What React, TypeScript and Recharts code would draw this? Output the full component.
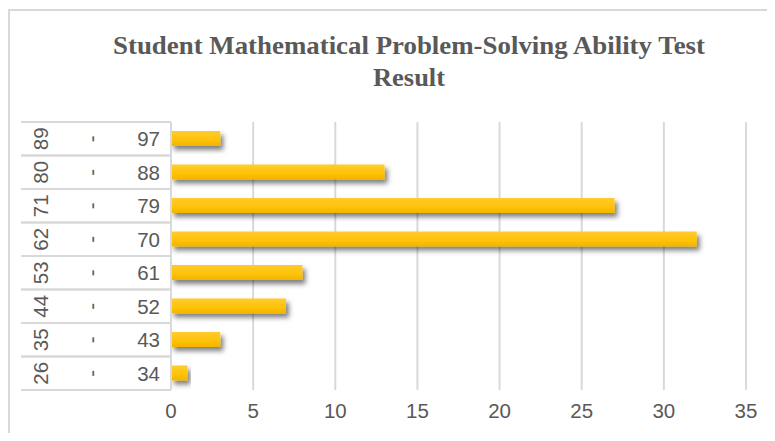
import React from "react";
import { BarChart, Bar, XAxis, YAxis, CartesianGrid } from "recharts";

const rangeLow = ["89", "80", "71", "62", "53", "44", "35", "26"];
const rangeHigh = ["97", "88", "79", "70", "61", "52", "43", "34"];
const frequency = [3, 13, 27, 32, 8, 7, 3, 1];
const xTicks = [0, 5, 10, 15, 20, 25, 30, 35];
const titleLines = ["Student Mathematical Problem-Solving Ability Test", "Result"];

const data = rangeLow.map((lo, i) => ({
  range: `${lo} - ${rangeHigh[i]}`,
  low: lo,
  high: rangeHigh[i],
  value: frequency[i],
}));

const TEXT = "#595959";
const GRID = "#d9d9d9";
const FONT = "'Liberation Sans', Arial, sans-serif";
const FS = 20.5;

const W = 775;
const H = 441;
const M = { top: 122, right: 29, bottom: 21, left: 21 };
const Y_W = 150;
const PLOT_H = H - M.top - M.bottom - 30;
const BAND = PLOT_H / data.length;

const CategoryTick = (props: any) => {
  const { y, payload } = props;
  const item = data.find((d) => d.range === payload.value);
  if (!item) return null;
  const left = M.left;
  const right = M.left + Y_W;
  const xLow = 40;
  const xDash = 91;
  const xHigh = 160;
  return (
    <g>
      <line x1={left} x2={right} y1={y - BAND / 2} y2={y - BAND / 2} stroke={GRID} strokeWidth={2} />
      <line x1={left} x2={right} y1={y + BAND / 2} y2={y + BAND / 2} stroke={GRID} strokeWidth={2} />
      <text
        x={xLow}
        y={y}
        transform={`rotate(-90 ${xLow} ${y})`}
        textAnchor="middle"
        dominantBaseline="central"
        fill={TEXT}
        fontSize={FS}
        fontFamily={FONT}
      >
        {item.low}
      </text>
      <text
        x={xDash}
        y={y}
        transform={`rotate(-90 ${xDash} ${y})`}
        textAnchor="middle"
        dominantBaseline="central"
        fill={TEXT}
        fontSize={FS}
        fontFamily={FONT}
      >
        -
      </text>
      <text
        x={xHigh}
        y={y}
        textAnchor="end"
        dominantBaseline="central"
        fill={TEXT}
        fontSize={FS}
        fontFamily={FONT}
      >
        {item.high}
      </text>
    </g>
  );
};

export default function App() {
  return (
    <div style={{ position: "relative", width: W, height: H, margin: -8, background: "#fff", overflow: "hidden" }}>
      <BarChart
        width={W}
        height={H}
        data={data}
        layout="vertical"
        margin={M}
        barCategoryGap={0}
      >
        <defs>
          <linearGradient id="barFill" x1="0" y1="0" x2="0" y2="1">
            <stop offset="0%" stopColor="#FFCB2E" />
            <stop offset="60%" stopColor="#FFC208" />
            <stop offset="100%" stopColor="#F2B400" />
          </linearGradient>
          <filter id="barShadow" x="-10%" y="-40%" width="130%" height="220%">
            <feDropShadow dx="3" dy="4" stdDeviation="2.8" floodColor="#000" floodOpacity="0.5" />
          </filter>
        </defs>
        <CartesianGrid horizontal={false} vertical stroke={GRID} strokeWidth={2} />
        <XAxis
          type="number"
          domain={[0, 35]}
          ticks={xTicks}
          axisLine={false}
          tickLine={false}
          tickMargin={7}
          height={30}
          tick={{ fill: TEXT, fontSize: FS, fontFamily: FONT }}
          interval={0}
        />
        <YAxis
          type="category"
          dataKey="range"
          width={Y_W}
          axisLine={{ stroke: GRID, strokeWidth: 2 }}
          tickLine={false}
          tick={<CategoryTick />}
          interval={0}
        />
        <Bar
          dataKey="value"
          fill="url(#barFill)"
          barSize={15}
          filter="url(#barShadow)"
          isAnimationActive={false}
        />
      </BarChart>
      <svg
        width={W}
        height={H}
        style={{ position: "absolute", left: 0, top: 0, pointerEvents: "none" }}
      >
        <rect x={9} y={10} width={W + 10} height={H + 10} fill="none" stroke={GRID} strokeWidth={2} />
        {titleLines.map((t, i) => (
          <text
            key={t}
            x={409}
            y={54 + i * 32}
            textAnchor="middle"
            fill={TEXT}
            fontSize={26}
            fontWeight="bold"
            fontFamily="'Liberation Serif', 'Times New Roman', serif"
            textLength={i === 0 ? 592 : 72}
            lengthAdjust="spacingAndGlyphs"
          >
            {t}
          </text>
        ))}
      </svg>
    </div>
  );
}
